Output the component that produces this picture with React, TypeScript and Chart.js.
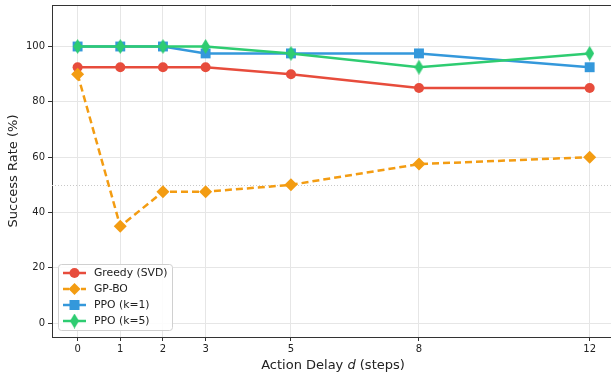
import React, { useEffect, useRef } from "react";
import { Chart, registerables } from "chart.js";

Chart.register(...registerables);

const delays = [0, 1, 2, 3, 5, 8, 12];
const greedy = [92.5, 92.5, 92.5, 92.5, 90, 85, 85];
const gpbo = [90, 35, 47.5, 47.5, 50, 57.5, 60];
const ppo1 = [100, 100, 100, 97.5, 97.5, 97.5, 92.5];
const ppo5 = [100, 100, 100, 100, 97.5, 92.5, 97.5];
const yTicks = [0, 20, 40, 60, 80, 100];
const seriesNames = ["Greedy (SVD)", "GP-BO", "PPO (k=1)", "PPO (k=5)"];
const colors = ["#e74c3c", "#f39c12", "#3498db", "#2ecc71"];

const FONT = "DejaVu Sans, sans-serif";

function thinDiamond(color: string, w: number, h: number) {
  const c = document.createElement("canvas");
  c.width = w;
  c.height = h;
  const ctx = c.getContext("2d")!;
  ctx.fillStyle = color;
  ctx.beginPath();
  ctx.moveTo(w / 2, 0);
  ctx.lineTo(w, h / 2);
  ctx.lineTo(w / 2, h);
  ctx.lineTo(0, h / 2);
  ctx.closePath();
  ctx.fill();
  return c;
}

export default function App() {
  const ref = useRef<HTMLCanvasElement>(null);
  useEffect(() => {
    const canvas = ref.current!;
    const dia = thinDiamond(colors[3], 9, 15);
    const mk = (arr: number[]) => arr.map((v, i) => ({ x: delays[i], y: v }));

    const overlay = {
      id: "overlay",
      beforeDatasetsDraw(chart: any) {
        const { ctx, chartArea, scales } = chart;
        const y50 = Math.round(scales.y.getPixelForValue(50));
        ctx.save();
        ctx.strokeStyle = "#c8c8c8";
        ctx.lineWidth = 1;
        ctx.setLineDash([1, 2]);
        ctx.beginPath();
        ctx.moveTo(chartArea.left, y50 + 0.5);
        ctx.lineTo(chartArea.right, y50 + 0.5);
        ctx.stroke();
        ctx.restore();
      },
      afterDatasetsDraw(chart: any) {
        const { ctx, chartArea } = chart;
        ctx.save();
        ctx.strokeStyle = "#333";
        ctx.lineWidth = 1;
        ctx.beginPath();
        ctx.moveTo(chartArea.left, chartArea.top + 0.5);
        ctx.lineTo(chartArea.right, chartArea.top + 0.5);
        ctx.stroke();

        // legend
        const bx = chartArea.left + 6, by = chartArea.bottom - 73, bw = 114, bh = 66;
        ctx.fillStyle = "rgba(255,255,255,0.85)";
        ctx.strokeStyle = "#d0d0d0";
        ctx.lineWidth = 1;
        ctx.beginPath();
        (ctx as any).roundRect(bx + 0.5, by + 0.5, bw, bh, 3);
        ctx.fill();
        ctx.stroke();
        seriesNames.forEach((name, i) => {
          const yy = by + 9 + i * 16;
          const c = colors[i];
          ctx.strokeStyle = c;
          ctx.lineWidth = 2.5;
          ctx.setLineDash(i === 1 ? [6, 3] : []);
          ctx.beginPath();
          ctx.moveTo(bx + 5, yy);
          ctx.lineTo(bx + 28, yy);
          ctx.stroke();
          ctx.setLineDash([]);
          ctx.fillStyle = c;
          const mx = bx + 16.5;
          if (i === 0) {
            ctx.beginPath();
            ctx.arc(mx, yy, 5, 0, Math.PI * 2);
            ctx.fill();
          } else if (i === 1) {
            ctx.beginPath();
            ctx.moveTo(mx, yy - 6);
            ctx.lineTo(mx + 6, yy);
            ctx.lineTo(mx, yy + 6);
            ctx.lineTo(mx - 6, yy);
            ctx.closePath();
            ctx.fill();
          } else if (i === 2) {
            ctx.fillRect(mx - 5, yy - 5, 10, 10);
          } else {
            ctx.drawImage(dia, mx - 4.5, yy - 7.5);
          }
          ctx.fillStyle = "#222";
          ctx.font = `10.8px ${FONT}`;
          ctx.textBaseline = "middle";
          ctx.textAlign = "left";
          ctx.fillText(name, bx + 36, yy + 0.5);
        });

        // axis titles
        ctx.fillStyle = "#222";
        ctx.textBaseline = "middle";
        const fs = 13;
        const xcenter = (chartArea.left + 614) / 2;
        const p1 = "Action Delay ";
        const p2 = "d";
        const p3 = " (steps)";
        ctx.font = `${fs}px ${FONT}`;
        const w1 = ctx.measureText(p1).width;
        const w3 = ctx.measureText(p3).width;
        ctx.font = `italic ${fs}px ${FONT}`;
        const w2 = ctx.measureText(p2).width;
        let sx = xcenter - (w1 + w2 + w3) / 2;
        const ty = 366;
        ctx.textAlign = "left";
        ctx.font = `${fs}px ${FONT}`;
        ctx.fillText(p1, sx, ty);
        sx += w1;
        ctx.font = `italic ${fs}px ${FONT}`;
        ctx.fillText(p2, sx, ty);
        sx += w2;
        ctx.font = `${fs}px ${FONT}`;
        ctx.fillText(p3, sx, ty);

        ctx.save();
        ctx.translate(14, (chartArea.top + chartArea.bottom) / 2);
        ctx.rotate(-Math.PI / 2);
        ctx.textAlign = "center";
        ctx.fillText("Success Rate (%)", 0, 0);
        ctx.restore();
        ctx.restore();
      },
    };

    const chart = new Chart(canvas, {
      type: "line",
      data: {
        datasets: [
          {
            label: seriesNames[0],
            data: mk(greedy),
            borderColor: colors[0],
            backgroundColor: colors[0],
            borderWidth: 2.5,
            pointStyle: "circle",
            pointRadius: 5,
            pointBorderWidth: 0,
            order: 3,
          },
          {
            label: seriesNames[1],
            data: mk(gpbo),
            borderColor: colors[1],
            backgroundColor: colors[1],
            borderWidth: 2.5,
            borderDash: [7, 4],
            pointStyle: "rectRot",
            pointRadius: 6.5,
            pointBorderWidth: 0,
            order: 2,
          },
          {
            label: seriesNames[2],
            data: mk(ppo1),
            borderColor: colors[2],
            backgroundColor: colors[2],
            borderWidth: 2.5,
            pointStyle: "rect",
            pointRadius: 7,
            pointBorderWidth: 0,
            order: 1,
          },
          {
            label: seriesNames[3],
            data: mk(ppo5),
            borderColor: colors[3],
            backgroundColor: colors[3],
            borderWidth: 2.5,
            pointStyle: dia as any,
            pointRadius: 5,
            pointBorderWidth: 0,
            order: 0,
          },
        ],
      },
      options: {
        responsive: false,
        animation: false,
        layout: { autoPadding: false, padding: { top: 5, right: 0, left: 0, bottom: 0 } },
        plugins: { legend: { display: false }, tooltip: { enabled: false } },
        scales: {
          x: {
            type: "linear",
            min: -0.6,
            max: 12.5,
            afterBuildTicks: (s: any) => {
              s.ticks = delays.map((v) => ({ value: v }));
            },
            afterFit: (s: any) => {
              s.height = 37;
              s.paddingLeft = 0;
              s.paddingRight = 0;
            },
            grid: { color: "#e6e6e6", lineWidth: 1, tickColor: "#333", tickLength: 4 },
            border: { display: true, color: "#333", width: 1 },
            ticks: { color: "#222", font: { family: FONT, size: 10 }, padding: 2, maxRotation: 0 },
          },
          y: {
            type: "linear",
            min: -5,
            max: 115,
            afterBuildTicks: (s: any) => {
              s.ticks = yTicks.map((v) => ({ value: v }));
            },
            afterFit: (s: any) => {
              s.width = 52;
              s.paddingTop = 0;
              s.paddingBottom = 0;
            },
            grid: { color: "#e6e6e6", lineWidth: 1, tickColor: "#333", tickLength: 4 },
            border: { display: true, color: "#333", width: 1 },
            ticks: { color: "#222", font: { family: FONT, size: 10 }, padding: 3 },
          },
        },
      },
      plugins: [overlay],
    });
    return () => chart.destroy();
  }, []);
  return (
    <div style={{ position: "absolute", left: 0, top: 0 }}>
      <canvas ref={ref} width={611} height={374} style={{ display: "block" }} />
    </div>
  );
}
